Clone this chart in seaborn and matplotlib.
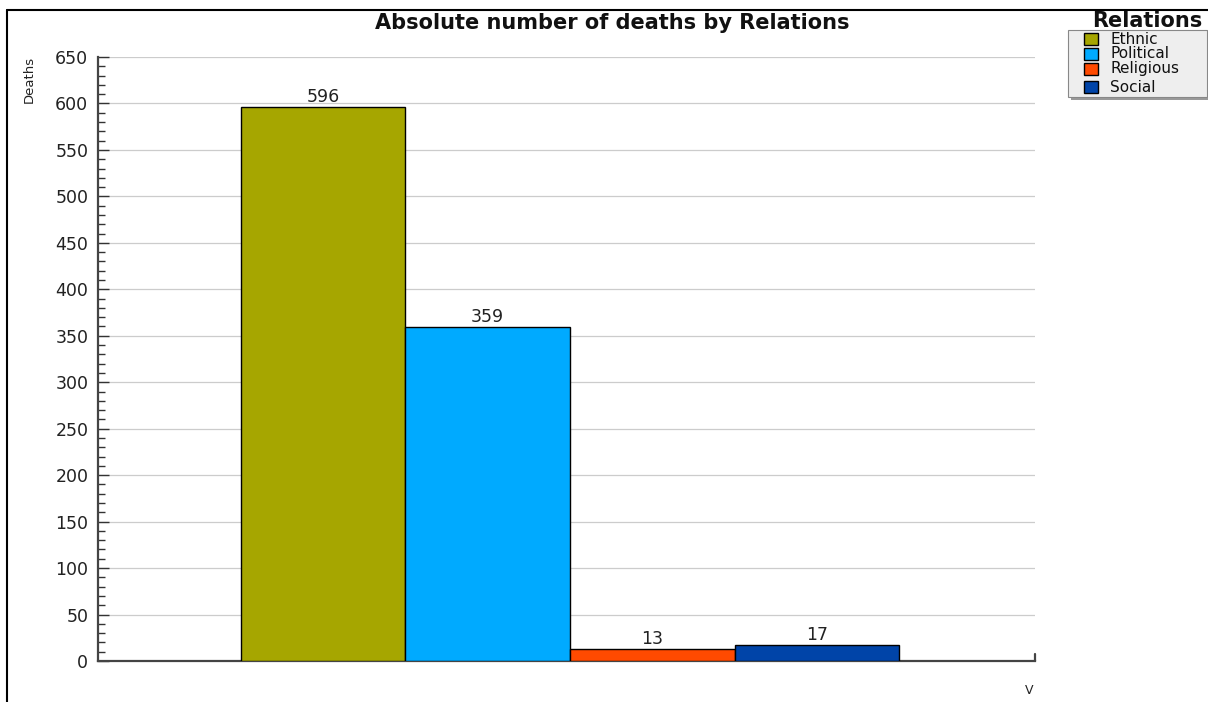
import matplotlib
matplotlib.use("Agg")
import matplotlib.pyplot as plt
import seaborn as sns
import pandas as pd
from matplotlib.patches import Rectangle
from matplotlib.lines import Line2D

relations = ["Ethnic", "Political", "Religious", "Social"]
deaths = [596, 359, 13, 17]
category = ["V", "V", "V", "V"]
colors = ["#a6a600", "#00aaff", "#ff4a00", "#0044a8"]
yticks = list(range(0, 651, 50))

sns.set_theme(style="white")
plt.rcParams['font.family'] = ['DejaVu Sans']

df = pd.DataFrame({"cat": category, "Relations": relations, "Deaths": deaths})

fig = plt.figure(figsize=(12.08, 7.02), dpi=100)
ax = fig.add_axes([98/1208, 41/702, (1035-98)/1208, (661-57)/702])

sns.barplot(data=df, x="cat", y="Deaths", hue="Relations", hue_order=relations,
            palette=colors, width=0.703, edgecolor="black", linewidth=1.0,
            saturation=1, ax=ax, legend=False, zorder=3)

for c in ax.containers:
    ax.bar_label(c, fmt="%d", padding=1, fontsize=12.5, color="#222222")

ax.set_xlim(-0.5037, 0.4963)
ax.set_ylim(0, 650)
ax.set_yticks(yticks)
ax.set_yticks(range(0, 651, 10), minor=True)
ax.yaxis.grid(True, color="#cccccc", linewidth=0.9, zorder=0)
ax.set_axisbelow(True)
ax.tick_params(axis="y", which="major", direction="in", length=8, width=1,
               color="#333333", labelsize=12.5, labelcolor="#222222", pad=7, left=True)
ax.tick_params(axis="y", which="minor", direction="in", length=5, width=1,
               color="#333333", left=True)
ax.set_xticks([])
ax.set_xlabel("")
ax.set_ylabel("")
for s in ["top", "right"]:
    ax.spines[s].set_visible(False)
for s in ["left", "bottom"]:
    ax.spines[s].set_color("#444444")
    ax.spines[s].set_linewidth(1.6)
# small tick at right end of x axis
ax.plot([1, 1], [0, 0.012], transform=ax.transAxes, color="#444444", lw=1.6, clip_on=False)

fig.text(1029/1208, 1 - 691/702, "V", ha="center", va="center", fontsize=9, color="#222222")
fig.text(29/1208, 1 - 79/702, "Deaths", rotation=90, ha="center", va="center",
         fontsize=9.5, color="#222222", family=["Liberation Sans Narrow", "DejaVu Sans"])

fig.text(612/1208, 1 - 23/702, "Absolute number of deaths by Relations", ha="center",
         va="center", fontsize=15, fontweight="bold", color="#111111")

# outer frame lines
fig.add_artist(Line2D([7/1208, 1], [1 - 10/702, 1 - 10/702], color="black", lw=1.5))
fig.add_artist(Line2D([7/1208, 7/1208], [0, 1 - 10/702], color="black", lw=1.5))

# legend
fig.text(1147/1208, 1 - 21/702, "Relations", ha="center", va="center",
         fontsize=15, fontweight="bold", color="#111111")
fig.add_artist(Rectangle((1071/1208, 1 - 100/702), (1208-1071)/1208, 70/702,
                         transform=fig.transFigure, facecolor="#999999", edgecolor="none"))
fig.add_artist(Rectangle((1068/1208, 1 - 97/702), (1207-1068)/1208, 67/702,
                         transform=fig.transFigure, facecolor="#eeeeee", edgecolor="#888888", lw=0.8))
ys = [39, 54, 69, 87]
for lab, col, y in zip(relations, colors, ys):
    fig.add_artist(Rectangle((1084/1208, 1 - (y + 6)/702), 14/1208, 12/702,
                             transform=fig.transFigure, facecolor=col, edgecolor="black", lw=1))
    fig.text(1110/1208, 1 - y/702, lab, ha="left", va="center", fontsize=11, color="#111111")

fig.savefig("out.png", dpi=100)
